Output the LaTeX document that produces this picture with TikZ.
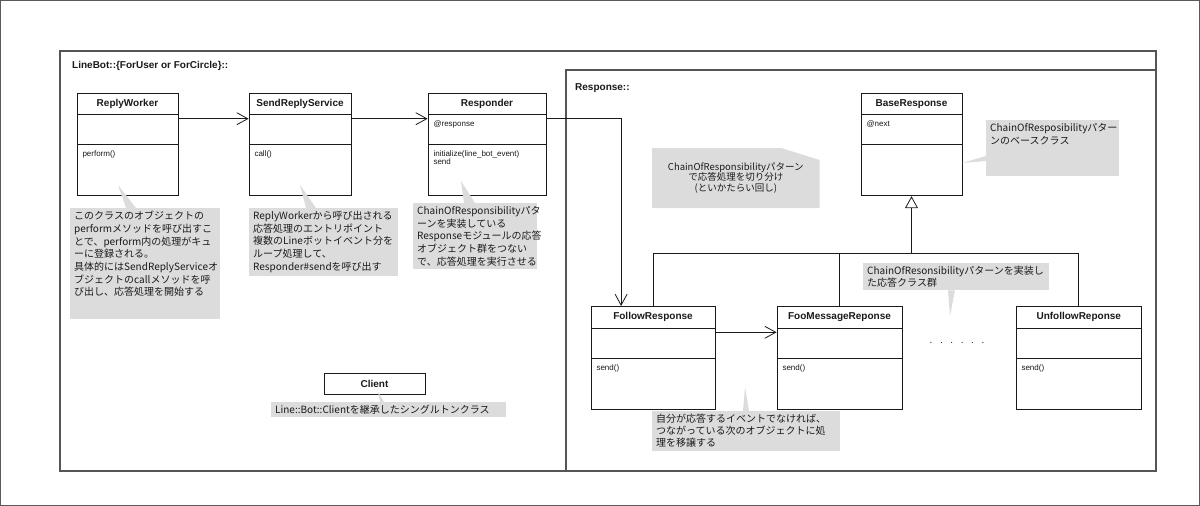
\documentclass[tikz,border=0pt]{standalone}
\usepackage{fontspec}
\setmainfont{Liberation Sans}
\newfontfamily\jp{Noto Sans CJK JP}
\usepackage{tikz}
\usetikzlibrary{arrows.meta,shapes.multipart}

\definecolor{ink}{HTML}{1A1A1A}
\definecolor{notegray}{HTML}{DCDCDC}
\definecolor{framegray}{HTML}{555555}

% class compartments
\newcommand{\ctitle}[1]{\parbox[c][20.8pt][c]{\linewidth}{\centering\bfseries\fontsize{10}{12}\selectfont #1}}
\newcommand{\cbody}[2]{\parbox[t][#1][t]{\linewidth}{\raggedright\rule{0pt}{12pt}#2}}

\begin{document}
\begin{tikzpicture}[x=1pt, y=-1pt,
        every node/.style={inner sep=0pt, text=ink},
        classbox/.style={draw=ink, line width=0.8pt, fill=white, rectangle split, rectangle split parts=3,
            inner xsep=5.5pt, inner ysep=0pt, anchor=north, font=\fontsize{8}{8.2}\selectfont},
        note/.style={fill=notegray, anchor=north west, inner xsep=4pt, inner ysep=3pt, align=left,
            font=\jp\fontsize{10}{12.7}\selectfont},
        title/.style={anchor=west, font=\bfseries\fontsize{10}{12}\selectfont},
        frame/.style={draw=framegray, line width=1.3pt},
        line/.style={draw=ink, line width=0.8pt},
        assoc/.style={line, -{Straight Barb[length=11pt, width=12pt]}},
        inherit/.style={line, -{Triangle[open, length=12pt, width=13pt]}}]

    \useasboundingbox (0,0) rectangle (1200,506);
    \draw[black!65, line width=2pt] (0,0) rectangle (1200,506);

    % packages
    \draw[frame] (60,51) rectangle (1156,471);
    \draw[frame] (566,70) rectangle (1156,471);
    \node[title] (lbpkg) at (72,66) {LineBot::\{ForUser or ForCircle\}::};
    \node[title] (rspkg) at (575,88) {Response::};

    % LineBot classes
    \node[classbox, text width=90pt] (rw) at (127.5,92.5)
        {\ctitle{ReplyWorker}\nodepart{two}\cbody{29pt}{}\nodepart{three}\cbody{50.7pt}{perform()}};
    \node[classbox, text width=91pt] (srs) at (300,92.5)
        {\ctitle{SendReplyService}\nodepart{two}\cbody{29pt}{}\nodepart{three}\cbody{50.7pt}{call()}};
    \node[classbox, text width=107pt] (resp) at (487,92.5)
        {\ctitle{Responder}\nodepart{two}\cbody{29pt}{@response}\nodepart{three}\cbody{50.7pt}{initialize(line\_bot\_event)\\send}};
    \node[draw=ink, line width=0.8pt, minimum width=101pt, minimum height=21.3pt, anchor=north,
        font=\bfseries\fontsize{10}{12}\selectfont] (client) at (374.5,372.7) {Client};

    % Response classes
    \node[classbox, text width=90pt] (base) at (911.5,92.5)
        {\ctitle{BaseResponse}\nodepart{two}\cbody{29pt}{@next}\nodepart{three}\cbody{50.7pt}{}};
    \node[classbox, text width=113pt] (fr) at (653,306)
        {\ctitle{FollowResponse}\nodepart{two}\cbody{29.3pt}{}\nodepart{three}\cbody{50.7pt}{send()}};
    \node[classbox, text width=114pt] (foo) at (839.5,306)
        {\ctitle{FooMessageReponse}\nodepart{two}\cbody{29.3pt}{}\nodepart{three}\cbody{50.7pt}{send()}};
    \node[classbox, text width=114.5pt] (unf) at (1078.75,306)
        {\ctitle{UnfollowReponse}\nodepart{two}\cbody{29.3pt}{}\nodepart{three}\cbody{50.7pt}{send()}};
    \node[font=\fontsize{10}{12}\selectfont] (dots) at (957,343)
        {.\hspace{7.6pt}.\hspace{7.6pt}.\hspace{7.6pt}.\hspace{7.6pt}.\hspace{7.6pt}.};

    % connectors
    \draw[assoc] ([yshift=-4.2pt]rw.text split east) -- ([yshift=-4.2pt]srs.text split west);
    \draw[assoc] ([yshift=-4.2pt]srs.text split east) -- ([yshift=-4.2pt]resp.text split west);
    \draw[assoc] ([yshift=-4.2pt]resp.text split east) -| ([xshift=30.5pt]fr.north west);
    \draw[assoc] ([yshift=-4.3pt]fr.text split east) -- ([yshift=-4.3pt]foo.text split west);
    \path (base.south) ++(0,57) coordinate (hub);
    \draw[inherit] (hub) -- (base.south);
    \draw[line] (fr.north) |- (hub) -| (unf.north);
    \draw[line] (foo.north) -- (foo.north |- hub);

    % notes
    \node[note, text width=142pt, text depth=96pt] (rwnote) at (70,208)
        {このクラスのオブジェクトの\\performメソッドを呼び出すこ\\とで、perform内の処理がキュ\\ーに登録される。\\具体的にはSendReplyServiceオ\\ブジェクトのcallメソッドを呼\\び出し、応答処理を開始する};
    \node[note, text width=141pt] (srsnote) at (249,208)
        {ReplyWorkerから呼び出される\\応答処理のエントリポイント\\複数のLineボットイベント分を\\ループ処理して、\\Responder\#sendを呼び出す};
    \node[note, text width=116pt] (respnote) at (413,203)
        {ChainOfResponsibilityパタ\\ーンを実装している\\Responseモジュールの応答\\オブジェクト群をつない\\で、応答処理を実行させる};
    \node[note, text width=227pt] (clientnote) at (271,402)
        {Line::Bot::Clientを継承したシングルトンクラス};
    \fill[notegray] (652,148) -- (781,148) -- (819.6,160) -- (819.6,208) -- (652,208) -- cycle;
    \node[align=center, font=\jp\fontsize{9.5}{10.5}\selectfont] (chainnote) at (735.8,178)
        {ChainOfResponsibilityパターン\\で応答処理を切り分け\\(といかたらい回し)};
    \node[note, text width=124.5pt, text depth=42pt] (basenote) at (986,120)
        {ChainOfResposibilityパター\\ンのベースクラス};
    \node[note, text width=177.5pt, font=\jp\fontsize{10}{11.7}\selectfont] (groupnote) at (863,263)
        {ChainOfResonsibilityパターンを実装し\\た応答クラス群};
    \node[note, text width=179.6pt, font=\jp\fontsize{10}{12}\selectfont] (frnote) at (652,411)
        {自分が応答するイベントでなければ、\\つながっている次のオブジェクトに処\\理を移譲する};

    % note pointers
    \coordinate (rwtip) at (118,185);
    \coordinate (srstip) at (300,185);
    \coordinate (resptip) at (461,181);
    \coordinate (clienttip) at (378,392);
    \coordinate (basetip) at (962,163);
    \coordinate (grouptip) at (950,316);
    \coordinate (frtip) at (745,387);
    \fill[notegray] (rwtip) -- ([xshift=56pt]rwnote.north west) -- ([xshift=66pt]rwnote.north west) -- cycle;
    \fill[notegray] (srstip) -- ([xshift=57pt]srsnote.north west) -- ([xshift=67pt]srsnote.north west) -- cycle;
    \fill[notegray] (resptip) -- ([xshift=51pt]respnote.north west) -- ([xshift=62pt]respnote.north west) -- cycle;
    \fill[notegray] (clienttip) -- ([xshift=109pt]clientnote.north west) -- ([xshift=113pt]clientnote.north west) -- cycle;
    \fill[notegray] (basetip) -- ([yshift=-36pt]basenote.north west) -- ([yshift=-41pt]basenote.north west) -- cycle;
    \fill[notegray] (grouptip) -- ([xshift=85pt]groupnote.south west) -- ([xshift=92pt]groupnote.south west) -- cycle;
    \fill[notegray] (frtip) -- ([xshift=91pt]frnote.north west) -- ([xshift=97pt]frnote.north west) -- cycle;
\end{tikzpicture}
\end{document}
